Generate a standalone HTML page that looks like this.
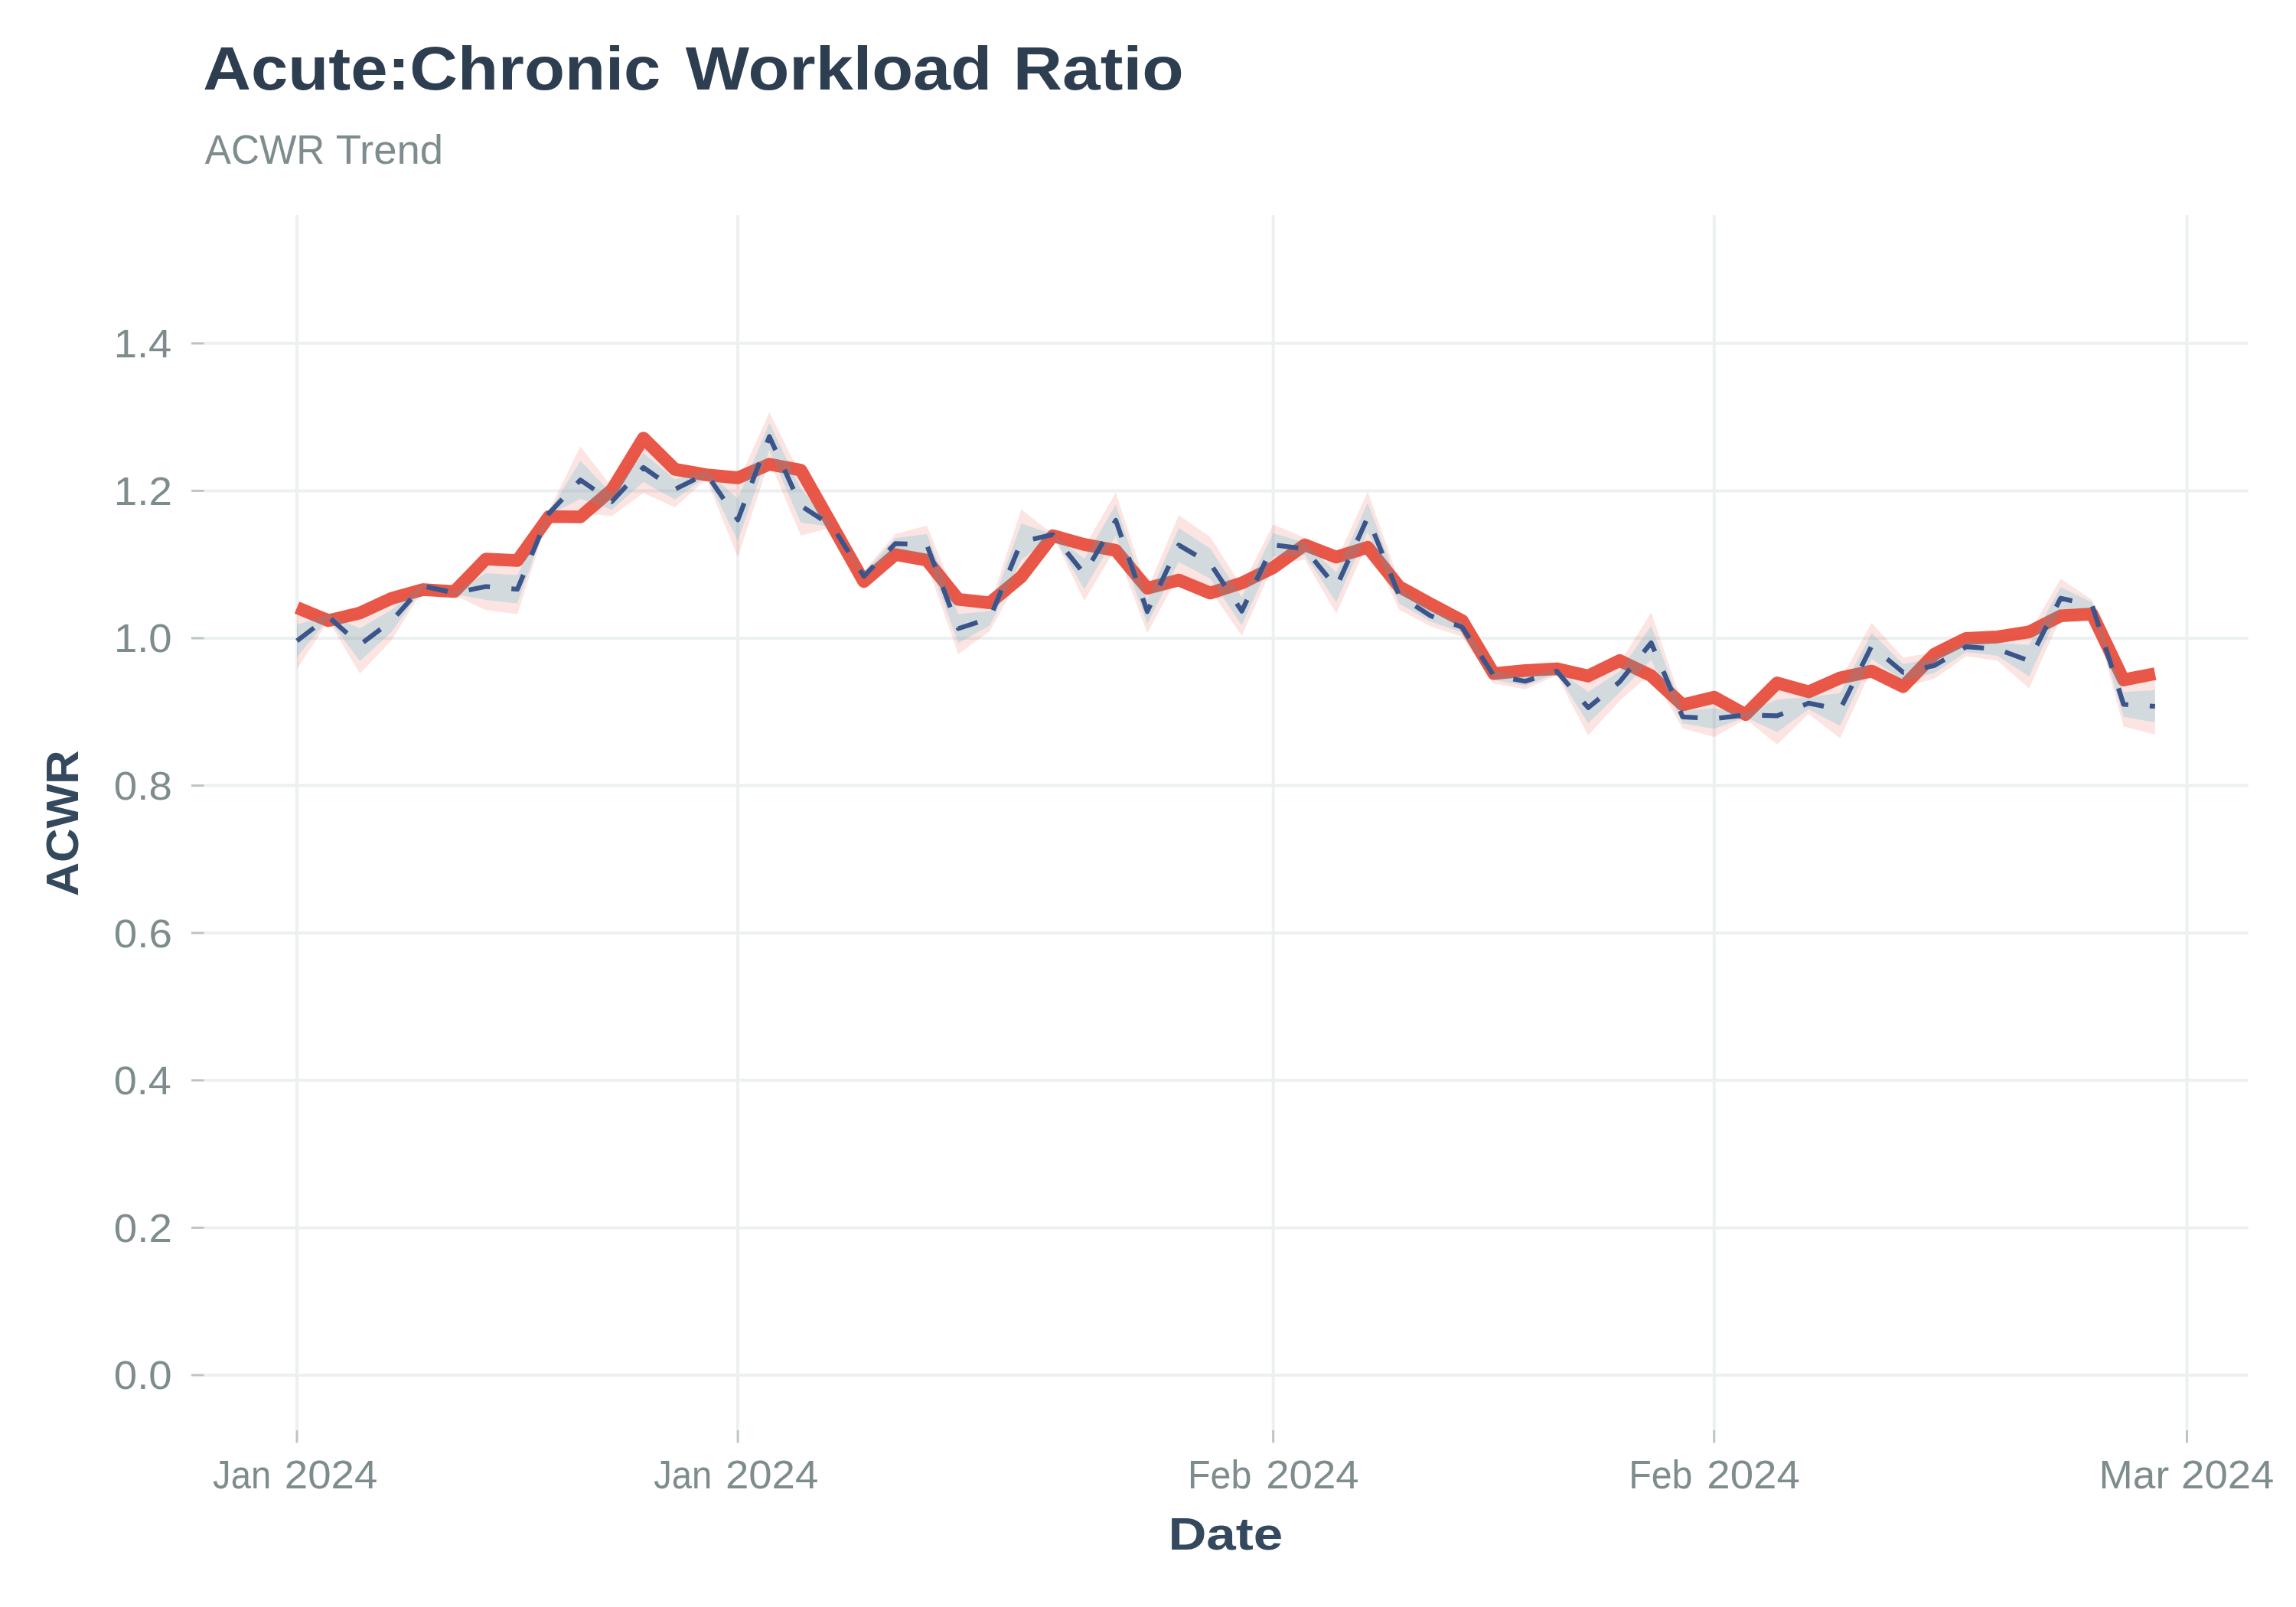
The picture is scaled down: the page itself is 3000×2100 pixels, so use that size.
<!DOCTYPE html>
<html><head><meta charset="utf-8"><title>Acute:Chronic Workload Ratio</title><style>
html,body{margin:0;padding:0;background:#ffffff;}
svg{display:block;}
text{font-family:"Liberation Sans",sans-serif;}
</style></head><body>
<svg width="3000" height="2100" viewBox="0 0 3000 2100">
<rect x="0" y="0" width="3000" height="2100" fill="#ffffff"/>
<g stroke="#ecf0f1" stroke-width="4" fill="none" stroke-linecap="butt">
<line x1="266.5" y1="1797" x2="2937.7" y2="1797"/>
<line x1="266.5" y1="1604.4" x2="2937.7" y2="1604.4"/>
<line x1="266.5" y1="1411.8" x2="2937.7" y2="1411.8"/>
<line x1="266.5" y1="1219.2" x2="2937.7" y2="1219.2"/>
<line x1="266.5" y1="1026.6" x2="2937.7" y2="1026.6"/>
<line x1="266.5" y1="834" x2="2937.7" y2="834"/>
<line x1="266.5" y1="641.4" x2="2937.7" y2="641.4"/>
<line x1="266.5" y1="448.8" x2="2937.7" y2="448.8"/>
<line x1="388" y1="281" x2="388" y2="1869"/>
<line x1="964.1" y1="281" x2="964.1" y2="1869"/>
<line x1="1663.65" y1="281" x2="1663.65" y2="1869"/>
<line x1="2239.75" y1="281" x2="2239.75" y2="1869"/>
<line x1="2857.5" y1="281" x2="2857.5" y2="1869"/>
</g>
<g stroke="#bdc3c7" stroke-width="3" fill="none">
<line x1="250" y1="1797" x2="266.5" y2="1797"/>
<line x1="250" y1="1604.4" x2="266.5" y2="1604.4"/>
<line x1="250" y1="1411.8" x2="266.5" y2="1411.8"/>
<line x1="250" y1="1219.2" x2="266.5" y2="1219.2"/>
<line x1="250" y1="1026.6" x2="266.5" y2="1026.6"/>
<line x1="250" y1="834" x2="266.5" y2="834"/>
<line x1="250" y1="641.4" x2="266.5" y2="641.4"/>
<line x1="250" y1="448.8" x2="266.5" y2="448.8"/>
<line x1="388" y1="1869" x2="388" y2="1885.5"/>
<line x1="964.1" y1="1869" x2="964.1" y2="1885.5"/>
<line x1="1663.65" y1="1869" x2="1663.65" y2="1885.5"/>
<line x1="2239.75" y1="1869" x2="2239.75" y2="1885.5"/>
<line x1="2857.5" y1="1869" x2="2857.5" y2="1885.5"/>
</g>
<path d="M388 800.54 L429.15 800.62 L470.3 804.84 L511.45 785.98 L552.6 761.22 L593.75 771.63 L634.9 735.7 L676.05 737.44 L717.2 667.48 L758.35 583.38 L799.5 636.84 L840.65 577.46 L881.8 616.09 L922.95 612.31 L964.1 630.72 L1005.25 538.82 L1046.4 621.55 L1087.55 686.57 L1128.7 745.96 L1169.85 697.98 L1211 686.83 L1252.15 787.96 L1293.3 791.28 L1334.45 665.76 L1375.6 697.72 L1416.75 714.98 L1457.9 643.74 L1499.05 771.04 L1540.2 673.23 L1581.35 701.65 L1622.5 766.39 L1663.65 685.25 L1704.8 703.02 L1745.95 733.18 L1787.1 642.56 L1828.25 759.82 L1869.4 791.07 L1910.55 807.28 L1951.7 872.04 L1992.85 879.74 L2034 871.82 L2075.15 888.72 L2116.3 866.36 L2157.45 800.4 L2198.6 921.84 L2239.75 915.06 L2280.9 929.12 L2322.05 897.74 L2363.2 904.82 L2404.35 889.16 L2445.5 814.1 L2486.65 859.34 L2527.8 852.35 L2568.95 832.88 L2610.1 833.16 L2651.25 827.42 L2692.4 756.28 L2733.55 783.76 L2774.7 891.81 L2815.85 886.04 L2815.85 959.96 L2774.7 949.19 L2733.55 797.84 L2692.4 807.32 L2651.25 899.58 L2610.1 863.44 L2568.95 857.52 L2527.8 886.85 L2486.65 898.06 L2445.5 874.3 L2404.35 964.84 L2363.2 932.98 L2322.05 973.06 L2280.9 939.68 L2239.75 962.94 L2198.6 951.76 L2157.45 879.6 L2116.3 915.64 L2075.15 960.88 L2034 882.38 L1992.85 900.86 L1951.7 893.16 L1910.55 831.92 L1869.4 818.53 L1828.25 796.78 L1787.1 709.44 L1745.95 801.82 L1704.8 731.18 L1663.65 738.75 L1622.5 830.81 L1581.35 771.35 L1540.2 751.37 L1499.05 827.36 L1457.9 716.26 L1416.75 785.02 L1375.6 699.48 L1334.45 750.24 L1293.3 824.72 L1252.15 854.84 L1211 737.17 L1169.85 722.62 L1128.7 760.04 L1087.55 689.03 L1046.4 700.05 L1005.25 602.18 L964.1 727.88 L922.95 625.69 L881.8 662.91 L840.65 644.34 L799.5 674.16 L758.35 671.02 L717.2 674.52 L676.05 802.56 L634.9 797.3 L593.75 777.97 L552.6 770.38 L511.45 837.02 L470.3 880.16 L429.15 811.18 L388 874.46 Z M388 816.5 L429.15 802.9 L470.3 821.1 L511.45 797 L552.6 763.2 L593.75 773 L634.9 749 L676.05 751.5 L717.2 669 L758.35 602.3 L799.5 644.9 L840.65 591.9 L881.8 626.2 L922.95 615.2 L964.1 651.7 L1005.25 552.5 L1046.4 638.5 L1087.55 687.1 L1128.7 749 L1169.85 703.3 L1211 697.7 L1252.15 802.4 L1293.3 798.5 L1334.45 684 L1375.6 698.1 L1416.75 730.1 L1457.9 659.4 L1499.05 783.2 L1540.2 690.1 L1581.35 716.7 L1622.5 780.3 L1663.65 696.8 L1704.8 709.1 L1745.95 748 L1787.1 657 L1828.25 767.8 L1869.4 797 L1910.55 812.6 L1951.7 876.6 L1992.85 884.3 L2034 874.1 L2075.15 904.3 L2116.3 877 L2157.45 817.5 L2198.6 928.3 L2239.75 925.4 L2280.9 931.4 L2322.05 914 L2363.2 910.9 L2404.35 905.5 L2445.5 827.1 L2486.65 867.7 L2527.8 859.8 L2568.95 838.2 L2610.1 839.7 L2651.25 843 L2692.4 767.3 L2733.55 786.8 L2774.7 904.2 L2815.85 902 L2815.85 944 L2774.7 936.8 L2733.55 794.8 L2692.4 796.3 L2651.25 884 L2610.1 856.9 L2568.95 852.2 L2527.8 879.4 L2486.65 889.7 L2445.5 861.3 L2404.35 948.5 L2363.2 926.9 L2322.05 956.8 L2280.9 937.4 L2239.75 952.6 L2198.6 945.3 L2157.45 862.5 L2116.3 905 L2075.15 945.3 L2034 880.1 L1992.85 896.3 L1951.7 888.6 L1910.55 826.6 L1869.4 812.6 L1828.25 788.8 L1787.1 695 L1745.95 787 L1704.8 725.1 L1663.65 727.2 L1622.5 816.9 L1581.35 756.3 L1540.2 734.5 L1499.05 815.2 L1457.9 700.6 L1416.75 769.9 L1375.6 699.1 L1334.45 732 L1293.3 817.5 L1252.15 840.4 L1211 726.3 L1169.85 717.3 L1128.7 757 L1087.55 688.5 L1046.4 683.1 L1005.25 588.5 L964.1 706.9 L922.95 622.8 L881.8 652.8 L840.65 629.9 L799.5 666.1 L758.35 652.1 L717.2 673 L676.05 788.5 L634.9 784 L593.75 776.6 L552.6 768.4 L511.45 826 L470.3 863.9 L429.15 808.9 L388 858.5 Z" fill="#e74c3c" fill-opacity="0.15" fill-rule="evenodd" stroke="none"/>
<path d="M388 794 L429.15 811 L470.3 801 L511.45 782 L552.6 770.5 L593.75 773 L634.9 730.5 L676.05 732.5 L717.2 675 L758.35 675.5 L799.5 640 L840.65 572.5 L881.8 613.2 L922.95 620.5 L964.1 624.4 L1005.25 606.6 L1046.4 614.4 L1087.55 687 L1128.7 760 L1169.85 724.6 L1211 732 L1252.15 783.3 L1293.3 787.7 L1334.45 753.8 L1375.6 700.1 L1416.75 711.5 L1457.9 719.2 L1499.05 768.8 L1540.2 758 L1581.35 775 L1622.5 761.9 L1663.65 741.7 L1704.8 712.1 L1745.95 728 L1787.1 715.2 L1828.25 766.7 L1869.4 789.2 L1910.55 811 L1951.7 880.2 L1992.85 876.3 L2034 874 L2075.15 883.3 L2116.3 863.2 L2157.45 883.1 L2198.6 921.2 L2239.75 911.1 L2280.9 933.7 L2322.05 892.5 L2363.2 904.1 L2404.35 885.8 L2445.5 877 L2486.65 897.3 L2527.8 854.6 L2568.95 834.3 L2610.1 832.3 L2651.25 825.8 L2692.4 804.8 L2733.55 802.4 L2774.7 888.5 L2815.85 880.4" fill="none" stroke="#e74c3c" stroke-opacity="0.94" stroke-width="16.67" stroke-linejoin="round" stroke-linecap="butt"/>
<path d="M388 816.5 L429.15 802.9 L470.3 821.1 L511.45 797 L552.6 763.2 L593.75 773 L634.9 749 L676.05 751.5 L717.2 669 L758.35 602.3 L799.5 644.9 L840.65 591.9 L881.8 626.2 L922.95 615.2 L964.1 651.7 L1005.25 552.5 L1046.4 638.5 L1087.55 687.1 L1128.7 749 L1169.85 703.3 L1211 697.7 L1252.15 802.4 L1293.3 798.5 L1334.45 684 L1375.6 698.1 L1416.75 730.1 L1457.9 659.4 L1499.05 783.2 L1540.2 690.1 L1581.35 716.7 L1622.5 780.3 L1663.65 696.8 L1704.8 709.1 L1745.95 748 L1787.1 657 L1828.25 767.8 L1869.4 797 L1910.55 812.6 L1951.7 876.6 L1992.85 884.3 L2034 874.1 L2075.15 904.3 L2116.3 877 L2157.45 817.5 L2198.6 928.3 L2239.75 925.4 L2280.9 931.4 L2322.05 914 L2363.2 910.9 L2404.35 905.5 L2445.5 827.1 L2486.65 867.7 L2527.8 859.8 L2568.95 838.2 L2610.1 839.7 L2651.25 843 L2692.4 767.3 L2733.55 786.8 L2774.7 904.2 L2815.85 902 L2815.85 944 L2774.7 936.8 L2733.55 794.8 L2692.4 796.3 L2651.25 884 L2610.1 856.9 L2568.95 852.2 L2527.8 879.4 L2486.65 889.7 L2445.5 861.3 L2404.35 948.5 L2363.2 926.9 L2322.05 956.8 L2280.9 937.4 L2239.75 952.6 L2198.6 945.3 L2157.45 862.5 L2116.3 905 L2075.15 945.3 L2034 880.1 L1992.85 896.3 L1951.7 888.6 L1910.55 826.6 L1869.4 812.6 L1828.25 788.8 L1787.1 695 L1745.95 787 L1704.8 725.1 L1663.65 727.2 L1622.5 816.9 L1581.35 756.3 L1540.2 734.5 L1499.05 815.2 L1457.9 700.6 L1416.75 769.9 L1375.6 699.1 L1334.45 732 L1293.3 817.5 L1252.15 840.4 L1211 726.3 L1169.85 717.3 L1128.7 757 L1087.55 688.5 L1046.4 683.1 L1005.25 588.5 L964.1 706.9 L922.95 622.8 L881.8 652.8 L840.65 629.9 L799.5 666.1 L758.35 652.1 L717.2 673 L676.05 788.5 L634.9 784 L593.75 776.6 L552.6 768.4 L511.45 826 L470.3 863.9 L429.15 808.9 L388 858.5 Z" fill="#768b98" fill-opacity="0.32" stroke="none"/>
<path d="M388 837.5 L429.15 805.9 L470.3 842.5 L511.45 811.5 L552.6 765.8 L593.75 774.8 L634.9 766.5 L676.05 770 L717.2 671 L758.35 627.2 L799.5 655.5 L840.65 610.9 L881.8 639.5 L922.95 619 L964.1 679.3 L1005.25 570.5 L1046.4 660.8 L1087.55 687.8 L1128.7 753 L1169.85 710.3 L1211 712 L1252.15 821.4 L1293.3 808 L1334.45 708 L1375.6 698.6 L1416.75 750 L1457.9 680 L1499.05 799.2 L1540.2 712.3 L1581.35 736.5 L1622.5 798.6 L1663.65 712 L1704.8 717.1 L1745.95 767.5 L1787.1 676 L1828.25 778.3 L1869.4 804.8 L1910.55 819.6 L1951.7 882.6 L1992.85 890.3 L2034 877.1 L2075.15 924.8 L2116.3 891 L2157.45 840 L2198.6 936.8 L2239.75 939 L2280.9 934.4 L2322.05 935.4 L2363.2 918.9 L2404.35 927 L2445.5 844.2 L2486.65 878.7 L2527.8 869.6 L2568.95 845.2 L2610.1 848.3 L2651.25 863.5 L2692.4 781.8 L2733.55 790.8 L2774.7 920.5 L2815.85 923" fill="none" stroke="#3b558b" stroke-width="6.25" stroke-dasharray="28.125 28.125" stroke-linejoin="round" stroke-linecap="butt"/>
<text x="265.23" y="116.8" font-size="80" fill="#2c3e50" font-weight="bold" textLength="598.19" lengthAdjust="spacingAndGlyphs">Acute:Chronic</text>
<text x="895.8" y="116.8" font-size="80" fill="#2c3e50" font-weight="bold" textLength="400.23" lengthAdjust="spacingAndGlyphs">Workload</text>
<text x="1323.73" y="116.8" font-size="80" fill="#2c3e50" font-weight="bold" textLength="222.92" lengthAdjust="spacingAndGlyphs">Ratio</text>
<text x="267.8" y="213.8" font-size="53.3" fill="#7f8c8d" textLength="156.43" lengthAdjust="spacingAndGlyphs">ACWR</text>
<text x="438.78" y="213.8" font-size="53.3" fill="#7f8c8d" textLength="140.35" lengthAdjust="spacingAndGlyphs">Trend</text>
<text x="148.8" y="1815.3" font-size="52" fill="#7f8c8d" textLength="75.91" lengthAdjust="spacingAndGlyphs">0.0</text>
<text x="148.8" y="1622.7" font-size="52" fill="#7f8c8d" textLength="76.02" lengthAdjust="spacingAndGlyphs">0.2</text>
<text x="148.82" y="1430.1" font-size="52" fill="#7f8c8d" textLength="75.02" lengthAdjust="spacingAndGlyphs">0.4</text>
<text x="148.8" y="1237.5" font-size="52" fill="#7f8c8d" textLength="76.02" lengthAdjust="spacingAndGlyphs">0.6</text>
<text x="148.8" y="1044.9" font-size="52" fill="#7f8c8d" textLength="76.02" lengthAdjust="spacingAndGlyphs">0.8</text>
<text x="148.91" y="852.3" font-size="52" fill="#7f8c8d" textLength="75.8" lengthAdjust="spacingAndGlyphs">1.0</text>
<text x="148.79" y="659.7" font-size="52" fill="#7f8c8d" textLength="76.13" lengthAdjust="spacingAndGlyphs">1.2</text>
<text x="148.71" y="467.1" font-size="52" fill="#7f8c8d" textLength="75.64" lengthAdjust="spacingAndGlyphs">1.4</text>
<text x="278.09" y="1944.5" font-size="52" fill="#7f8c8d" textLength="76.09" lengthAdjust="spacingAndGlyphs">Jan</text>
<text x="371.8" y="1944.5" font-size="52" fill="#7f8c8d" textLength="121.47" lengthAdjust="spacingAndGlyphs">2024</text>
<text x="854.19" y="1944.5" font-size="52" fill="#7f8c8d" textLength="76.09" lengthAdjust="spacingAndGlyphs">Jan</text>
<text x="947.9" y="1944.5" font-size="52" fill="#7f8c8d" textLength="121.47" lengthAdjust="spacingAndGlyphs">2024</text>
<text x="1552.08" y="1944.5" font-size="52" fill="#7f8c8d" textLength="83.32" lengthAdjust="spacingAndGlyphs">Feb</text>
<text x="1654.2" y="1944.5" font-size="52" fill="#7f8c8d" textLength="121.47" lengthAdjust="spacingAndGlyphs">2024</text>
<text x="2128.18" y="1944.5" font-size="52" fill="#7f8c8d" textLength="83.32" lengthAdjust="spacingAndGlyphs">Feb</text>
<text x="2230.3" y="1944.5" font-size="52" fill="#7f8c8d" textLength="121.47" lengthAdjust="spacingAndGlyphs">2024</text>
<text x="2742.62" y="1944.5" font-size="52" fill="#7f8c8d" textLength="91.46" lengthAdjust="spacingAndGlyphs">Mar</text>
<text x="2850.1" y="1944.5" font-size="52" fill="#7f8c8d" textLength="121.27" lengthAdjust="spacingAndGlyphs">2024</text>
<text x="1526.45" y="2024.9" font-size="59.5" fill="#34495e" font-weight="bold" textLength="149.83" lengthAdjust="spacingAndGlyphs">Date</text>
<text x="102.4" y="1171.3" font-size="59.5" fill="#34495e" font-weight="bold" textLength="191" lengthAdjust="spacingAndGlyphs" transform="rotate(-90 102.4 1171.3)">ACWR</text>
</svg>
</body></html>
